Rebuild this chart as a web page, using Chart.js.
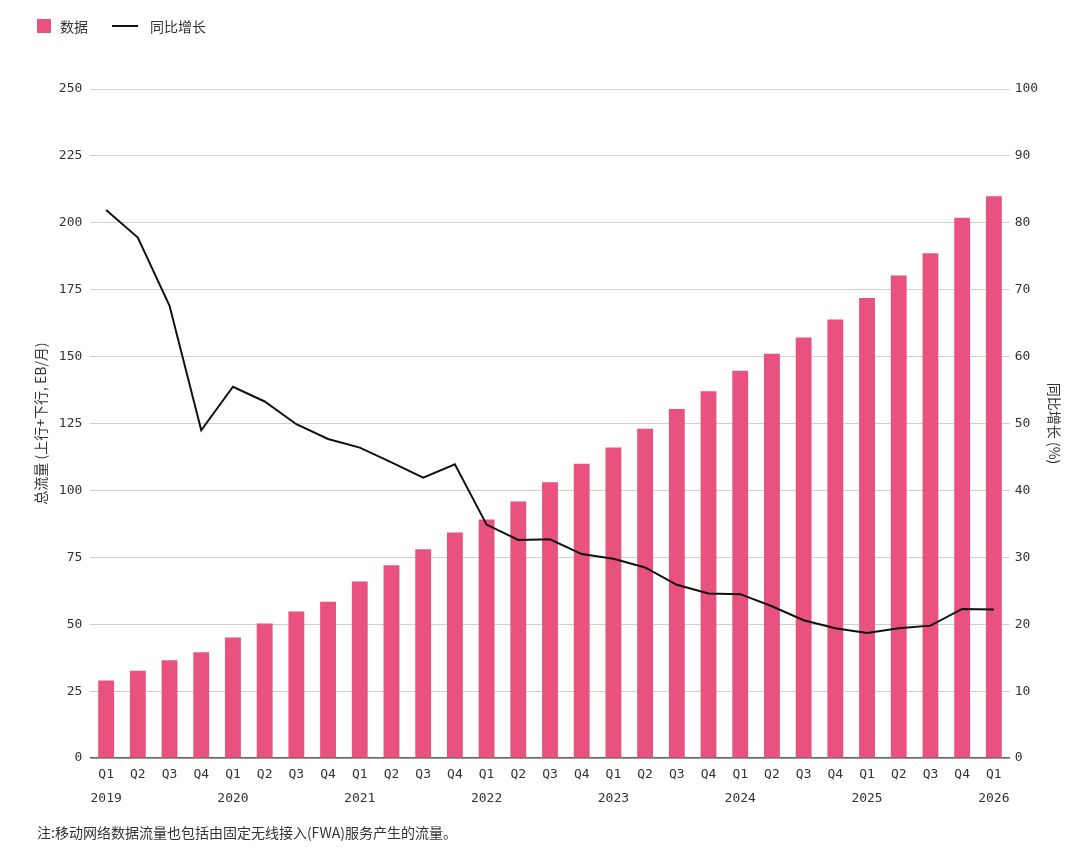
<!DOCTYPE html>
<html>
<head>
<meta charset="utf-8">
<script src="https://cdn.jsdelivr.net/npm/chart.js@4"></script>
<style>
  html, body { margin: 0; padding: 0; background: #fff; }
  #wrap { position: relative; width: 1080px; height: 861px; }
  #box { position: absolute; left: 0; top: 0; width: 1080px; height: 861px; }
  .legend { position: absolute; top: 14px; left: 37px; font: 14px "Noto Sans CJK SC", sans-serif; color: #333; }
  .legend span { display: inline-block; vertical-align: middle; }
  .sw { width: 14px; height: 14px; background: #E9527E; margin-right: 9px; }
  .ln { width: 26px; height: 2px; background: #111; margin: 0 12px 0 24px; }
  .note { position: absolute; left: 37px; top: 822px; font: 14px "Noto Sans CJK SC", sans-serif; color: #333; }
</style>
</head>
<body>
<div id="wrap">
  <div id="box"><canvas id="chart"></canvas></div>
  <div class="legend"><span class="sw"></span><span>数据</span><span class="ln"></span><span>同比增长</span></div>
  <div class="note">注:移动网络数据流量也包括由固定无线接入(FWA)服务产生的流量。</div>
</div>
<script>
// quarters 2019 Q1 .. 2026 Q1
var quarters = ["Q1", "Q2", "Q3", "Q4"];
var years = ["2019", "2020", "2021", "2022", "2023", "2024", "2025", "2026"];

// total traffic, EB per month
var traffic = [29.0, 32.6, 36.6, 39.6, 45.1, 50.3, 54.8, 58.4,
               66.0, 72.1, 78.0, 84.3, 89.2, 95.9, 103.1, 110.0,
               116.1, 123.1, 130.4, 137.1, 144.7, 151.1, 157.2, 163.9,
               171.9, 180.3, 188.6, 201.9, 209.9];

// year over year growth, %
var growth = [81.9, 77.8, 67.6, 49.0, 55.5, 53.3, 49.9, 47.7,
              46.4, 44.2, 41.9, 43.9, 34.9, 32.6, 32.7, 30.5,
              29.8, 28.5, 25.9, 24.6, 24.5, 22.7, 20.6, 19.4,
              18.7, 19.4, 19.8, 22.3, 22.2];

var labels = [];
for (var i = 0; i < traffic.length; i++) {
    var q = quarters[i % 4];
    if (i % 4 === 0) labels.push([q, years[i / 4]]);
    else labels.push(q);
}

var tickFont = { family: "'DejaVu Sans Mono', monospace", size: 13 };
var titleFont = { family: "'Noto Sans CJK SC', sans-serif", size: 14 };

new Chart(document.getElementById("chart"), {
    data: {
        labels: labels,
        datasets: [{
            type: "line",
            label: "同比增长",
            data: growth,
            yAxisID: "y2",
            borderColor: "#111",
            borderWidth: 2,
            pointRadius: 0,
            tension: 0,
            fill: false,
            order: 0
        }, {
            type: "bar",
            label: "数据",
            data: traffic,
            yAxisID: "y",
            backgroundColor: "#E9527E",
            barPercentage: 0.5,
            categoryPercentage: 1,
            order: 1
        }]
    },
    options: {
        responsive: true,
        maintainAspectRatio: false,
        animation: false,
        layout: { padding: { left: 30, right: 15, top: 89, bottom: 46 } },
        plugins: {
            legend: { display: false },
            tooltip: { enabled: false }
        },
        scales: {
            x: {
                grid: { display: false, drawTicks: false },
                border: { display: true, color: "#666", width: 1.5 },
                ticks: {
                    color: "#333",
                    font: { family: tickFont.family, size: 13, lineHeight: 1.88 },
                    padding: 4,
                    maxRotation: 0,
                    autoSkip: false
                }
            },
            y: {
                position: "left",
                min: 0,
                max: 250,
                ticks: { stepSize: 25, color: "#333", font: tickFont, padding: 8 },
                grid: { color: "#cfcfcf", drawTicks: false },
                border: { display: false },
                title: {
                    display: true,
                    text: "总流量 (上行+下行, EB/月)",
                    color: "#333",
                    font: titleFont,
                    padding: { top: 2, bottom: 2 }
                }
            },
            y2: {
                position: "right",
                min: 0,
                max: 100,
                ticks: { stepSize: 10, color: "#333", font: tickFont, padding: 5 },
                grid: { display: false, drawTicks: false },
                border: { display: false },
                title: {
                    display: true,
                    text: "同比增长 (%)",
                    color: "#333",
                    font: titleFont,
                    padding: { top: 2, bottom: 3 }
                }
            }
        }
    }
});
</script>
</body>
</html>
